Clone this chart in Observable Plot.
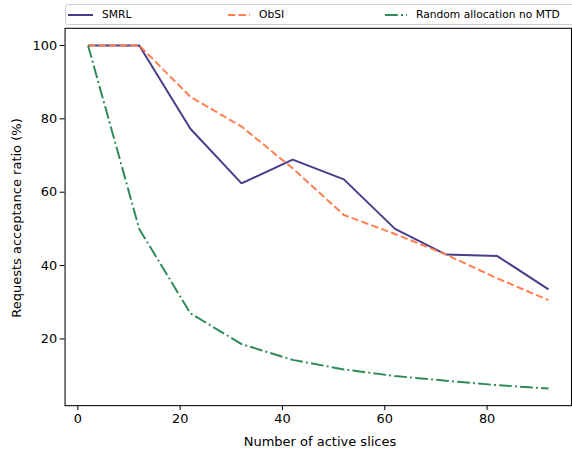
<!DOCTYPE html>
<html>
<head>
<meta charset="utf-8">
<script src="https://cdn.jsdelivr.net/npm/d3@7"></script>
<script src="https://cdn.jsdelivr.net/npm/@observablehq/plot@0.6"></script>
<style>
  html, body { margin: 0; padding: 0; background: #fff; overflow: hidden; width: 572px; height: 457px; }
  #wrap { position: relative; width: 572px; height: 457px; font-family: "DejaVu Sans", sans-serif; }
  #chart svg text { font-weight: normal; }
  #legend { position: absolute; left: 65px; top: 4px; width: 520px; height: 19px; border: 1px solid #d0d0d0; border-radius: 3px; background: #fff; }
  #legend .item { position: absolute; top: 0; height: 19px; display: flex; align-items: center; font-size: 10.7px; color: #000; }
  #legend svg { margin-right: 9px; }
  .axlabel { position: absolute; font-size: 13px; color: #000; white-space: nowrap; line-height: 1; }
  #xlabel { left: 320px; top: 441px; transform: translate(-50%, -50%); }
  #ylabel { left: 16px; top: 218px; transform: translate(-50%, -50%) rotate(-90deg); }
</style>
</head>
<body>
<div id="wrap">
  <div id="chart"></div>
  <div id="legend"></div>
  <div class="axlabel" id="xlabel"></div>
  <div class="axlabel" id="ylabel"></div>
</div>
<script>
const slices = [2, 12, 22, 32, 42, 52, 62, 72, 82, 92];
const smrl = [100, 100, 77.3, 62.4, 68.9, 63.5, 50, 43, 42.6, 33.5];
const obsi = [100, 100, 86, 77.9, 66.5, 53.8, 48.6, 43, 36.5, 30.6];
const randomAlloc = [100, 50, 27, 18.6, 14.3, 11.7, 9.9, 8.6, 7.4, 6.5];
const seriesNames = ["SMRL", "ObSI", "Random allocation no MTD"];
const xTicks = [0, 20, 40, 60, 80];
const yTicks = [20, 40, 60, 80, 100];
const xLabel = "Number of active slices";
const yLabel = "Requests acceptance ratio (%)";

const colors = ["#483d8b", "#ff7f50", "#2e8b57"];
const dashes = [null, "7.4,3.2", "12.8,3.2,2,3.2"];
const seriesValues = [smrl, obsi, randomAlloc];

const chart = Plot.plot({
  width: 576,
  height: 457,
  marginTop: 28,
  marginBottom: 49,
  marginLeft: 65,
  marginRight: 1,
  style: { fontFamily: "'DejaVu Sans', sans-serif", fontSize: "13px", fontWeight: "normal", background: "#fff", color: "#000" },
  x: { domain: [-2.5, 96.5] },
  y: { domain: [1.825, 104.675] },
  marks: [
    Plot.axisX({ ticks: xTicks, tickSize: 5, tickPadding: 3, fontSize: 13, label: null }),
    Plot.axisY({ ticks: yTicks, tickSize: 5, tickPadding: 3, fontSize: 13, label: null }),
    ...seriesValues.map((vals, i) =>
      Plot.line(slices, {
        x: d => d,
        y: (d, j) => vals[j],
        stroke: colors[i],
        strokeWidth: 2,
        strokeDasharray: dashes[i],
        strokeLinejoin: "miter",
        strokeLinecap: "butt"
      })
    ),
    Plot.frame({ stroke: "#000", strokeWidth: 1.05 })
  ]
});
document.getElementById("chart").appendChild(chart);
document.getElementById("xlabel").textContent = xLabel;
document.getElementById("ylabel").textContent = yLabel;

const legend = document.getElementById("legend");
const positions = [2, 162, 319];
seriesNames.forEach((name, i) => {
  const item = document.createElement("div");
  item.className = "item";
  item.style.left = positions[i] + "px";
  const w = i === 0 ? 25 : 22;
  item.innerHTML = `<svg width="${w}" height="6"><line x1="0" y1="3" x2="${w}" y2="3" stroke="${colors[i]}" stroke-width="2" ${dashes[i] ? `stroke-dasharray="${dashes[i]}"` : ""}/></svg><span>${name}</span>`;
  legend.appendChild(item);
});
</script>
</body>
</html>
